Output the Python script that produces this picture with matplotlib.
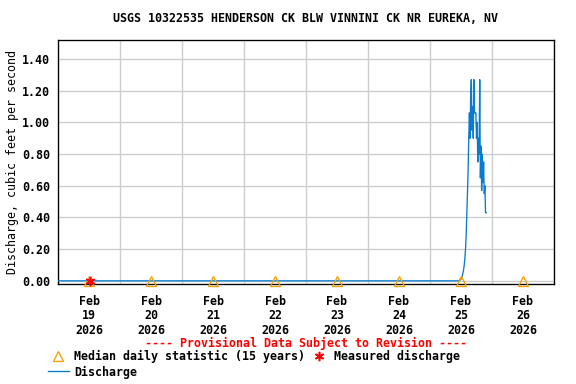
import datetime as dt
import matplotlib
matplotlib.use("Agg")
import matplotlib.pyplot as plt
import matplotlib.dates as mdates
from matplotlib.lines import Line2D

plt.rcParams.update({
    "font.family": "DejaVu Sans Mono",
    "font.weight": "bold",
    "font.size": 8.7,
})

# ---- data -------------------------------------------------------------------
# zero flow from start of window until the rise on Feb 25
flat_times = [dt.datetime(2026, 2, 19, 0, 0), dt.datetime(2026, 2, 25, 11, 30)]
flat_q = [0.00, 0.00]

# 15-minute values during the event on Feb 25
event_start = dt.datetime(2026, 2, 25, 11, 30)
event_q = [0.00, 0.01, 0.01, 0.02, 0.03, 0.05, 0.07, 0.10, 0.14, 0.20,
           0.29, 0.42, 0.55, 0.70, 0.90, 1.06, 0.90, 1.17, 1.27, 0.95,
           1.10, 0.90, 1.27, 1.06, 1.06, 1.06, 0.90, 1.00, 0.75, 0.90,
           0.80, 1.27, 0.65, 0.85, 0.57, 0.80, 0.62, 0.75, 0.55, 0.60,
           0.43, 0.43]
event_times = [event_start + dt.timedelta(minutes=15 * i) for i in range(len(event_q))]

q_times = flat_times + event_times[1:]
q_vals = flat_q + event_q[1:]

median_days = [dt.datetime(2026, 2, d, 12, 0) for d in range(19, 27)]
median_q = [0.0] * len(median_days)

measured_time = [dt.datetime(2026, 2, 19, 12, 30)]
measured_q = [0.0]

# ---- plot -------------------------------------------------------------------
fig = plt.figure(figsize=(6, 4), dpi=96)
ax = fig.add_axes([0.1007, 0.2604, 0.8611, 0.6354])

ax.plot(q_times, q_vals, color="#0a7ccf", lw=1.0, zorder=3)
ax.plot(median_days, median_q, ls="none", marker="^", ms=7, mfc="none",
        mec="#f5a000", mew=1.0, zorder=4, clip_on=False)
ax.plot(measured_time, measured_q, ls="none", marker=(6, 2, 0), ms=7,
        color="#ff0000", mew=1.2, zorder=5, clip_on=False)

ax.set_xlim(dt.datetime(2026, 2, 19), dt.datetime(2026, 2, 27))
ax.set_ylim(-0.02, 1.52)
ax.set_yticks([0.0, 0.2, 0.4, 0.6, 0.8, 1.0, 1.2, 1.4])
ax.set_yticklabels([f"{v:.2f}" for v in ax.get_yticks()])

ax.xaxis.set_major_locator(mdates.DayLocator())
ax.xaxis.set_major_formatter(plt.NullFormatter())
ax.xaxis.set_minor_locator(mdates.HourLocator(byhour=[12]))
ax.xaxis.set_minor_formatter(mdates.DateFormatter("%b\n%d\n%Y"))
ax.tick_params(axis="x", which="both", length=0, pad=8)
ax.tick_params(axis="y", length=0, pad=6)
for lab in ax.xaxis.get_minorticklabels():
    lab.set_linespacing(1.15)

ax.grid(True, which="major", color="#cccccc", lw=1.0)
ax.set_axisbelow(True)
for s in ax.spines.values():
    s.set_linewidth(1.0)
    s.set_color("black")

ax.set_ylabel("Discharge, cubic feet per second", labelpad=2)

fig.text(0.531, 1 - 19 / 384, "USGS 10322535 HENDERSON CK BLW VINNINI CK NR EUREKA, NV",
         ha="center", va="center")
fig.text(0.531, 1 - 343 / 384, "---- Provisional Data Subject to Revision ----",
         ha="center", va="center", color="#ff0000")

handles = [
    Line2D([], [], ls="none", marker="^", ms=7, mfc="none", mec="#f5a000", mew=1.0),
    Line2D([], [], color="#0a7ccf", lw=1.0),
    Line2D([], [], ls="none", marker=(6, 2, 0), ms=7, color="#ff0000", mew=1.2),
]
labels = ["Median daily statistic (15 years)", "Discharge", "Measured discharge"]
fig.legend(handles, labels, ncol=2, frameon=False, loc="upper left",
           bbox_to_anchor=(0.083, 1 - 350 / 384), handlelength=1.8,
           handletextpad=0.45, columnspacing=0.3, labelspacing=0.2,
           borderaxespad=0, borderpad=0)

fig.savefig("out.png", dpi=96)
